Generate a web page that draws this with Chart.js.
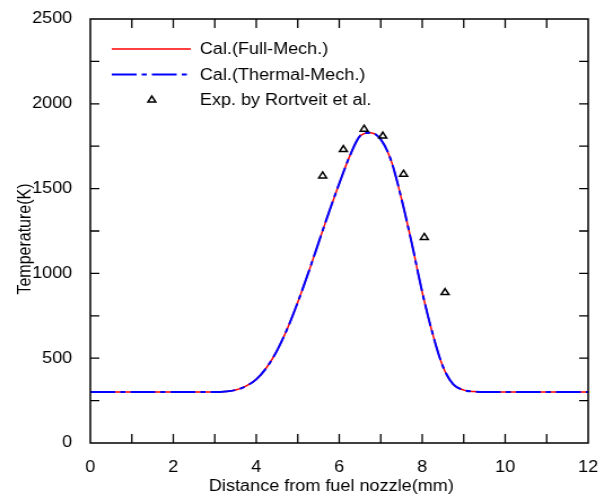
<!DOCTYPE html>
<html>
<head>
<meta charset="utf-8">
<script src="https://cdn.jsdelivr.net/npm/chart.js@4/dist/chart.umd.min.js"></script>
<style>
  html, body { margin: 0; padding: 0; background: #fff; }
  canvas { display: block; }
</style>
</head>
<body>
<canvas id="c" width="543" height="496" style="width:613px;height:496px"></canvas>
<script>
// ---- data ----
const distance    = [0, 1, 2, 3, 3.25, 3.5, 3.75, 4, 4.25, 4.5, 4.75, 5, 5.25, 5.5, 5.75, 6, 6.25, 6.5, 6.75, 7, 7.25, 7.5, 7.75, 8, 8.25, 8.5, 8.75, 9, 9.25, 9.5, 10, 11, 12];
const tempFull    = [300, 300, 300, 300, 303, 312, 335, 375, 445, 545, 675, 830, 1000, 1180, 1360, 1530, 1690, 1810, 1830, 1790, 1665, 1440, 1175, 890, 645, 450, 345, 312, 303, 300, 300, 300, 300];
const tempThermal = [300, 300, 300, 300, 303, 312, 335, 375, 445, 545, 675, 830, 1000, 1180, 1360, 1530, 1690, 1810, 1830, 1790, 1665, 1440, 1175, 890, 645, 450, 345, 312, 303, 300, 300, 300, 300];
const expDistance = [5.6, 6.1, 6.6, 7.05, 7.55, 8.05, 8.55];
const expTemp     = [1575, 1730, 1850, 1810, 1585, 1212, 887];
const xTickMarks  = [1, 2, 3, 4, 5, 6, 7, 8, 9, 10, 11];
const yTickMarks  = [250, 500, 750, 1000, 1250, 1500, 1750, 2000, 2250];
const seriesLabels = ['Cal.(Full-Mech.)', 'Cal.(Thermal-Mech.)', 'Exp. by Rortveit et al.'];
const xTitle = 'Distance from fuel nozzle(mm)';
const yTitle = 'Temperature(K)';

const toXY = (xs, ys) => xs.map((v, i) => ({ x: v, y: ys[i] }));
const FONT = "'Liberation Sans', Arial, sans-serif";
Chart.defaults.font.family = FONT;
Chart.defaults.font.size = 16;
Chart.defaults.color = '#000';

const framePlugin = {
  id: 'frame',
  afterDatasetsDraw(chart) {
    const { ctx, chartArea: a, scales: { x, y } } = chart;
    ctx.save();
    ctx.strokeStyle = '#000';
    ctx.lineWidth = 1.5;
    ctx.setLineDash([]);
    ctx.strokeRect(a.left, a.top, a.right - a.left, a.bottom - a.top);
    ctx.lineWidth = 1.3;
    ctx.beginPath();
    xTickMarks.forEach(v => {
      const px = x.getPixelForValue(v);
      ctx.moveTo(px, a.bottom); ctx.lineTo(px, a.bottom - 9);
      ctx.moveTo(px, a.top); ctx.lineTo(px, a.top + 9);
    });
    yTickMarks.forEach(v => {
      const py = y.getPixelForValue(v);
      ctx.moveTo(a.left, py); ctx.lineTo(a.left + 8, py);
      ctx.moveTo(a.right, py); ctx.lineTo(a.right - 8, py);
    });
    ctx.stroke();

    // axis titles
    ctx.fillStyle = '#000';
    ctx.font = '16px ' + FONT;
    ctx.textAlign = 'center';
    ctx.textBaseline = 'alphabetic';
    ctx.fillText(xTitle, (a.left + a.right) / 2 - 7, 491);
    ctx.save();
    ctx.translate(26.6, 239);
    ctx.rotate(-Math.PI / 2);
    ctx.fillText(yTitle, 0, 0);
    ctx.restore();

    // legend
    const ds = chart.data.datasets;
    const rows = [49, 74.5, 100];
    const x0 = 99, x1 = 169, tx = 177;
    ctx.textAlign = 'left';
    ctx.textBaseline = 'middle';
    ds.forEach((d, i) => {
      const yy = rows[i];
      ctx.save();
      ctx.strokeStyle = d.borderColor;
      ctx.lineWidth = d.borderWidth;
      if (d.showLine) {
        ctx.setLineDash(d.borderDash || []);
        ctx.beginPath(); ctx.moveTo(x0, yy); ctx.lineTo(x1, yy); ctx.stroke();
      } else {
        ctx.fillStyle = 'rgba(255,255,255,0)';
        Chart.helpers.drawPoint(ctx, { pointStyle: d.pointStyle, radius: d.pointRadius, borderWidth: d.borderWidth, rotation: 0 }, (x0 + x1) / 2 + 0.5, yy);
      }
      ctx.restore();
      ctx.fillStyle = '#000';
      ctx.fillText(d.label, tx, yy + 1);
    });
    ctx.restore();
  }
};

new Chart(document.getElementById('c'), {
  type: 'scatter',
  data: {
    datasets: [
      {
        label: seriesLabels[0],
        data: toXY(distance, tempFull),
        showLine: true,
        borderColor: '#ff0000',
        borderWidth: 1.5,
        pointRadius: 0,
        cubicInterpolationMode: 'monotone',
        order: 3
      },
      {
        label: seriesLabels[1],
        data: toXY(distance, tempThermal),
        showLine: true,
        borderColor: '#0000ff',
        borderWidth: 2,
        borderDash: [22, 4.5, 4.5, 4.5],
        pointRadius: 0,
        cubicInterpolationMode: 'monotone',
        order: 2
      },
      {
        label: seriesLabels[2],
        data: toXY(expDistance, expTemp),
        showLine: false,
        pointStyle: 'triangle',
        pointRadius: 4,
        borderColor: '#000',
        backgroundColor: 'rgba(255,255,255,0)',
        borderWidth: 1.5,
        order: 1
      }
    ]
  },
  options: {
    responsive: false,
    devicePixelRatio: 1,
    animation: false,
    layout: { padding: { top: 19, right: 22, left: 0, bottom: 0 } },
    plugins: { legend: { display: false }, tooltip: { enabled: false } },
    scales: {
      x: {
        type: 'linear', min: 0, max: 12,
        grid: { display: false },
        border: { display: false },
        ticks: { stepSize: 2, padding: 7, color: '#000', maxRotation: 0, callback: v => String(v) },
        afterFit(s) { s.height = 53; }
      },
      y: {
        type: 'linear', min: 0, max: 2500,
        grid: { display: false },
        border: { display: false },
        ticks: { stepSize: 500, padding: 8, color: '#000', callback: v => String(v) },
        afterFit(s) { s.width = 80; }
      }
    }
  },
  plugins: [framePlugin]
});
</script>
</body>
</html>
